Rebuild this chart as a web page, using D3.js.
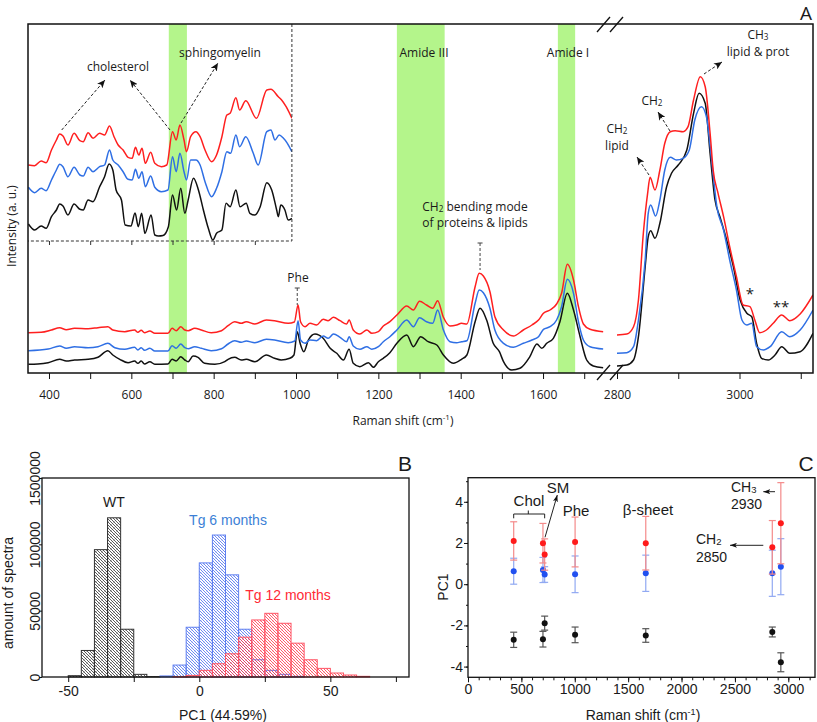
<!DOCTYPE html>
<html><head><meta charset="utf-8">
<script src="https://cdn.jsdelivr.net/npm/d3@7"></script>
<style>body{margin:0;background:#fff} svg{display:block}</style>
</head><body>
<svg id="c" width="817" height="722"></svg>
<script>
// ---------------- DATA ----------------
// Panel A: Raman spectra [shift (cm-1), intensity (a.u.)]
const redMain1 = [[350,40.3],[381,40.7],[406,43],[426,45.3],[442,43.3],[462,44.7],[495,44.3],[519,45.3],[543,46.3],[555,43],[584,41.3],[608,43],[616,40.7],[624,42.7],[632,40.3],[645,42],[657,39.7],[689,39.7],[699,44.7],[709,42.3],[720,46.3],[730,43],[738,42.3],[754,44.7],[770,43],[794,40.3],[819,42.3],[835,47.3],[851,51.3],[867,49.7],[879,51.3],[900,49],[928,53],[948,52.3],[981,49.7],[996,51],[1005,68],[1011,51.3],[1022,46.3],[1034,49.7],[1050,48],[1066,53.7],[1078,52.3],[1091,55.7],[1107,52.3],[1123,49],[1129,53],[1139,43],[1155,39],[1172,43],[1184,39.7],[1200,41.3],[1212,47],[1228,51.3],[1245,58],[1269,67],[1285,63],[1300,71.7],[1317,68],[1332,64.7],[1344,72.3],[1358,55.7],[1374,47],[1390,48],[1402,49.7],[1415,49],[1435,86.3],[1445,99.7],[1455,97],[1471,81.3],[1483,56.3],[1504,43],[1528,37],[1552,43],[1573,48],[1589,53],[1601,59.7],[1617,63],[1633,69],[1645,79.7],[1659,108.7],[1674,93],[1686,66.3],[1698,49],[1714,43.7],[1746,41.3]];
const blueMain1 = [[350,22.3],[398,24],[426,27],[442,24.7],[462,26.3],[495,25.3],[519,26.3],[543,29.7],[560,25.3],[584,23.7],[608,25.7],[616,23],[624,25.3],[632,22.7],[645,24.7],[657,22],[689,22],[699,27.3],[709,24.7],[720,29],[730,25.3],[738,24.3],[754,26.3],[770,24.7],[794,22.3],[819,24.3],[835,29],[851,32.3],[867,30.7],[879,32],[900,30.3],[928,33.7],[948,33],[981,30.3],[997,32],[1005,52.3],[1011,33],[1022,29.7],[1034,33],[1050,32.3],[1066,37],[1078,34.7],[1091,39],[1107,35.7],[1123,31.3],[1129,36.3],[1139,27],[1155,23.7],[1172,26.3],[1184,23.7],[1200,26.3],[1212,31.3],[1228,36.3],[1245,43],[1269,53],[1285,46.3],[1300,55.3],[1317,51.3],[1332,49.7],[1344,63],[1358,43],[1374,31.3],[1390,30.3],[1402,31.3],[1415,32.3],[1435,69.7],[1445,83],[1455,80.3],[1471,64.7],[1483,43],[1504,29.7],[1528,25.7],[1552,29.7],[1573,33],[1589,36.3],[1601,43.7],[1617,46.3],[1633,53],[1645,66.3],[1659,93.7],[1674,79.7],[1686,51.3],[1698,33],[1714,26.3],[1746,24]];
const blackMain1 = [[350,8.7],[373,9],[398,10.3],[426,13.7],[442,12],[462,13],[495,13.7],[519,15.7],[543,22.3],[555,18],[572,13.7],[592,10.3],[608,12],[616,9.7],[624,12],[632,9],[645,11.3],[657,8.7],[689,9],[699,13.7],[709,12],[720,16.3],[730,13],[738,11.3],[750,17],[762,15.7],[778,9.7],[803,8.7],[827,11.3],[835,13.7],[851,15.7],[867,13],[879,13.7],[900,11.3],[928,18],[948,14.7],[964,13],[985,14.7],[995,18],[1003,41.3],[1010,29.7],[1019,21.3],[1030,33],[1046,39],[1066,34.7],[1083,24.7],[1099,19.7],[1115,13],[1129,23.7],[1139,9.7],[1155,6.3],[1176,10.3],[1188,5.7],[1200,11.3],[1212,14.7],[1228,20.3],[1245,29.7],[1269,38],[1285,26.3],[1303,36.3],[1321,31.3],[1342,28],[1358,18],[1382,9.7],[1402,13.7],[1415,18],[1435,51.3],[1447,64.7],[1463,53],[1479,29.7],[1494,21.3],[1504,11.3],[1524,3],[1544,4.7],[1568,16.3],[1585,29],[1597,24.7],[1609,29.7],[1625,34.7],[1641,51.3],[1659,79.7],[1674,63],[1690,36.3],[1706,13],[1722,7],[1746,5.3]];
const redMain2 = [[2800,38],[2816,39],[2827,46.3],[2835,73],[2843,139.7],[2850,179.7],[2854,195.7],[2862,183],[2870,203],[2878,229.7],[2887,241.3],[2895,242.3],[2908,241.3],[2916,246.3],[2925,273],[2936,296.3],[2944,286.3],[2952,239.7],[2957,203],[2965,179.7],[2974,156.3],[2984,126.3],[2995,96.3],[3006,68],[3017,66.3],[3025,53],[3033,40.3],[3044,43],[3055,49.7],[3069,58],[3082,52.3],[3099,59],[3120,78]];
const blueMain2 = [[2800,19.7],[2816,20.3],[2827,26.3],[2835,53],[2846,113],[2851,159.7],[2855,168],[2863,157],[2870,173],[2878,203],[2887,215.7],[2897,213],[2908,214.7],[2918,223],[2927,253],[2938,266.3],[2946,256.3],[2955,209.7],[2963,166.3],[2974,143],[2984,113],[2995,83],[3004,53],[3012,48],[3020,49.7],[3028,26.3],[3039,23],[3050,26.3],[3069,41.3],[3082,36.3],[3099,43],[3120,63]];
const blackMain2 = [[2800,7],[2816,8],[2827,13],[2835,36.3],[2846,106.3],[2851,136.3],[2855,142.3],[2862,134.7],[2870,149.7],[2881,186.3],[2889,199.7],[2900,208],[2914,223],[2925,259.7],[2934,279.7],[2944,269.7],[2952,219.7],[2960,173],[2968,156.3],[2979,133],[2990,106.3],[3001,73],[3012,59.7],[3020,56.3],[3028,29.7],[3036,14.7],[3047,13],[3058,18],[3069,26.3],[3082,19.7],[3099,21.3],[3120,39.7]];
// Inset (magnified 350-990 cm-1)
const redInset = [[350,76],[365,75.3],[381,80],[393,78.3],[406,91],[418,101],[426,107],[434,105],[446,96],[461,107.7],[475,100.3],[483,99.3],[495,108.3],[507,102.7],[523,107.7],[535,106],[547,115],[558,104.3],[568,96],[580,91],[592,83.7],[602,82.7],[610,93.7],[618,86],[626,92.7],[634,77.7],[647,88.7],[657,77.7],[673,74.3],[686,76],[700,109.3],[709,101],[718,116],[728,101],[734,89.3],[744,104.3],[757,109.3],[767,104.3],[779,91],[795,79.3],[807,86],[820,104.3],[832,126],[840,127.7],[854,143.3],[863,131],[878,140.3],[904,122.7],[929,151],[939,151.7],[957,144.3],[965,141],[976,134.3],[990,122.7]];
const blueInset = [[350,53.7],[365,48.3],[381,52.7],[393,50.3],[406,61],[418,71],[426,76.7],[434,74.3],[446,64.3],[461,73.7],[475,66],[483,65],[495,73.7],[507,69.3],[523,74.3],[535,76],[547,91],[555,81],[568,76],[580,69.3],[592,61.7],[602,61],[610,71.7],[618,62.7],[626,69.3],[634,54.3],[647,65],[657,53.7],[673,49.3],[689,51],[700,84.3],[709,69.3],[718,87.7],[728,69.3],[734,61],[744,81],[757,81],[767,76],[779,59.3],[795,44.3],[807,52.7],[820,69.3],[832,89.3],[841,87.7],[854,106],[863,94.3],[878,104.3],[896,88],[908,76],[929,109.3],[939,111],[949,101],[959,106],[969,103],[979,97.7],[990,89.3]];
const blackInset = [[350,17],[365,11],[381,15],[393,12.7],[406,24.3],[418,31],[426,37],[434,35],[446,26],[461,37],[475,31.7],[483,31],[495,41],[507,39.3],[523,54.3],[535,64.3],[546,77],[555,71],[563,51],[576,41],[585,16],[599,15],[609,28],[617,14.3],[625,27.7],[633,7.7],[648,26],[657,6],[666,5],[677,5.5],[690,14.3],[700,46],[710,31],[720,52.7],[730,27.7],[738,41],[751,62.7],[763,51],[775,31],[787,12.7],[798,1],[807,7.7],[820,11],[830,37.7],[840,34.3],[854,51],[864,34.3],[879,37.7],[888,27.7],[900,26],[913,34.3],[929,58.3],[941,51],[953,31],[957,24.3],[963,36],[973,31],[981,21],[990,22.7]];
const bandRanges = [[691,735],[1245,1361],[1636,1678]];
const ticksA1 = [400,500,600,700,800,900,1000,1100,1200,1300,1400,1500,1600,1700];
const ticksA2 = [2800,2900,3000,3100];

// Panel B: histogram of PC1 scores (bin width 5)
const binWidth = 5;
const wtBins = [-50,-45,-40,-35,-30,-25,-20];
const wtCounts = [1000,20000,96000,120000,36000,2000,300];
const tg6Bins = [-15,-10,-5,0,5,10,15,20,25,30,35];
const tg6Counts = [800,9000,37500,86000,107000,77000,36000,13000,5000,2000,500];
const tg12Bins = [-10,-5,0,5,10,15,20,25,30,35,40,45,50,55,60];
const tg12Counts = [300,1200,5000,10000,17500,30000,43000,48000,40500,25500,13000,6500,3000,1500,500];
const yTickValsB = [0,50000,100000,150000];
const yTickLabelsB = ["0","50000","100000","1500000"];
const xTicksB = [-50,-25,0,25,50,75];

// Panel C: PC1 per band
const cShifts = [428,702,718,1003,1665,2850,2930];
const wtMean = [-2.70,-2.67,-1.89,-2.46,-2.49,-2.32,-3.79];
const wtErr = [0.37,0.38,0.34,0.38,0.33,0.24,0.46];
const tg6Mean = [0.63,0.69,0.47,0.48,0.53,0.53,0.85];
const tg6Err = [0.63,0.61,0.38,0.89,0.88,1.12,1.36];
const tg12Mean = [2.10,1.99,1.44,2.05,1.99,1.79,2.96];
const tg12Err = [0.93,0.96,0.76,1.21,1.30,1.30,1.97];

// ---------------- DRAW ----------------
const svg = d3.select("#c");
const FA = "'Open Sans','DejaVu Sans',sans-serif";
const FB = "'Liberation Sans',Arial,sans-serif";
const RED = "#ff1f1f", BLUE = "#2f6fe4", BLK = "#111";
const defs = svg.append("defs");

function mkMarker(id, color, w, h) {
  defs.append("marker").attr("id", id).attr("viewBox", `0 0 ${w} ${h}`)
    .attr("refX", w).attr("refY", h/2).attr("markerWidth", w).attr("markerHeight", h)
    .attr("markerUnits", "userSpaceOnUse").attr("orient", "auto")
    .append("path").attr("d", `M0,0L${w},${h/2}L0,${h}L${w*0.25},${h/2}Z`).attr("fill", color);
}
mkMarker("arrA", "#111", 8, 7);
mkMarker("arrC", "#111", 7, 5);

function mkHatch(id, color, op) {
  const p = defs.append("pattern").attr("id", id).attr("width", 6).attr("height", 6)
    .attr("patternUnits", "userSpaceOnUse");
  p.append("path").attr("d", "M-1,-1L7,7M2,-1L7,4M-1,2L4,7M5,-1L7,1M-1,5L1,7")
    .attr("stroke", color).attr("stroke-width", 0.8).attr("fill", "none");
  p.append("path").attr("d", "M-1,7L7,-1M-1,1L1,-1M5,7L7,5")
    .attr("stroke", color).attr("stroke-width", 0.6).attr("opacity", op).attr("fill", "none");
}
mkHatch("hK", "#333", 0.45);
mkHatch("hB", "#4d70ee", 0.3);
mkHatch("hR", "#ff3348", 0.3);

function clip(id, x, y, w, h) {
  defs.append("clipPath").attr("id", id).append("rect").attr("x", x).attr("y", y).attr("width", w).attr("height", h);
}

// ===== Panel A =====
const xA1 = d3.scaleLinear().domain([350,1750]).range([28.4,604.8]);
const xA2 = d3.scaleLinear().domain([2800,3120]).range([617,813]);
const yA = d3.scaleLinear().domain([0,350]).range([373,23]);
const yIn = d3.scaleLinear().domain([0,217]).range([241,24]);
clip("cA1", 28, 24, 577, 349);
clip("cA2", 616, 24, 197, 349);
clip("cIn", 28, 24, 264, 217);

const gA = svg.append("g");
gA.selectAll("rect.band").data(bandRanges).join("rect").attr("class","band")
  .attr("x", d => xA1(d[0])).attr("width", d => xA1(d[1]) - xA1(d[0]))
  .attr("y", 24).attr("height", 349).attr("fill", "#b4f58b");

function drawLines(g, sets, xs, ys, clipId) {
  const ln = d3.line().x(d => xs(d[0])).y(d => ys(d[1])).curve(d3.curveMonotoneX);
  g.append("g").attr("clip-path", `url(#${clipId})`).selectAll("path").data(sets).join("path")
    .attr("d", d => ln(d.v)).attr("fill", "none").attr("stroke", d => d.c)
    .attr("stroke-width", 1.5).attr("stroke-linejoin", "round");
}
drawLines(gA, [{v:blackMain1,c:BLK},{v:blueMain1,c:BLUE},{v:redMain1,c:RED}], xA1, yA, "cA1");
drawLines(gA, [{v:blackMain2,c:BLK},{v:blueMain2,c:BLUE},{v:redMain2,c:RED}], xA2, yA, "cA2");
drawLines(gA, [{v:blackInset,c:BLK},{v:blueInset,c:BLUE},{v:redInset,c:RED}], xA1, yIn, "cIn");

// inset box
gA.append("path").attr("d", `M${xA1(990)},24V241H28`).attr("fill","none")
  .attr("stroke","#333").attr("stroke-width",1).attr("stroke-dasharray","3,2");
gA.append("g").attr("transform","translate(0,241)")
  .call(d3.axisBottom(xA1).tickValues([400,500,600,700,800,900]).tickFormat("").tickSize(4))
  .call(g => g.select(".domain").remove()).selectAll("line").attr("stroke","#333");

// frame
gA.append("rect").attr("x",28).attr("y",24).attr("width",785).attr("height",349)
  .attr("fill","none").attr("stroke","#111").attr("stroke-width",1.5);

// axes
function styleAxis(g, font, size) {
  g.select(".domain").remove();
  g.selectAll("text").attr("font-family", font).attr("font-size", size).attr("fill", "#1a1a1a");
  g.selectAll("line").attr("stroke", "#111");
}
gA.append("g").attr("transform","translate(0,373)")
  .call(d3.axisBottom(xA1).tickValues(ticksA1).tickFormat(d => d % 200 === 0 ? String(d) : "").tickSize(6).tickPadding(11))
  .call(g => styleAxis(g, FA, 12));
gA.append("g").attr("transform","translate(0,373)")
  .call(d3.axisBottom(xA2).tickValues(ticksA2).tickFormat(d => d % 200 === 0 ? String(d) : "").tickSize(6).tickPadding(11))
  .call(g => styleAxis(g, FA, 12));

// break marks
[[597,32,610,17],[610,32,623,17],[597,380,610,365],[610,380,623,365]].forEach(s => {
  gA.append("line").attr("x1",s[0]).attr("y1",s[1]).attr("x2",s[2]).attr("y2",s[3])
    .attr("stroke","#111").attr("stroke-width",1.3);
});

function txt(g, x, y, s, o) {
  o = o || {};
  const t = g.append("text").attr("x", x).attr("y", y)
    .attr("font-family", o.font || FA).attr("font-size", o.size || 12)
    .attr("fill", o.fill || "#1a1a1a").attr("text-anchor", o.anchor || "middle");
  if (o.rot) t.attr("transform", `rotate(-90,${x},${y})`);
  if (o.sub) {
    t.text(s);
    t.append("tspan").attr("font-size", (o.size || 12) * 0.68).attr("dy", 1).text(o.sub);
  } else t.text(s);
  return t;
}
// axis titles
const tA = txt(gA, 403, 425, "Raman shift (cm");
tA.append("tspan").attr("font-size", 8).attr("dy", -5).text("-1");
tA.append("tspan").attr("dy", 5).text(")");
txt(gA, 16, 226, "Intensity (a. u.)", {rot: true});
txt(gA, 806, 20, "A", {size: 19});

// annotations A
txt(gA, 118, 71, "cholesterol");
txt(gA, 220, 57, "sphingomyelin");
txt(gA, 424, 57, "Amide III");
txt(gA, 568, 57, "Amide I");
txt(gA, 758, 39, "CH", {sub: "3"});
txt(gA, 758, 56, "lipid & prot");
txt(gA, 652, 105, "CH", {sub: "2"});
txt(gA, 617, 133, "CH", {sub: "2"});
txt(gA, 617, 150, "lipid");
txt(gA, 475, 211, "CH", {sub: "2"}).append("tspan").attr("dy", -1).attr("font-size", 12).text(" bending mode");
txt(gA, 475, 227, "of proteins & lipids");
txt(gA, 298, 282, "Phe");
txt(gA, 750, 299, "*", {size: 15});
txt(gA, 781, 312, "**", {size: 15});

[[61.7,130,105,80],[170,130,130,80],[181,123,218,63],[704,74,722,62],[670,131,658,112],[649,175,637,157]].forEach(a => {
  gA.append("line").attr("x1",a[0]).attr("y1",a[1]).attr("x2",a[2]).attr("y2",a[3])
    .attr("stroke","#222").attr("stroke-width",1).attr("stroke-dasharray","3,2")
    .attr("marker-end","url(#arrA)");
});
// dashed peak markers with caps
[[xA1(1003),288,305],[xA1(1447),243,270]].forEach(m => {
  gA.append("line").attr("x1",m[0]).attr("x2",m[0]).attr("y1",m[1]).attr("y2",m[2])
    .attr("stroke","#444").attr("stroke-width",1).attr("stroke-dasharray","3,2");
  gA.append("line").attr("x1",m[0]-2.5).attr("x2",m[0]+2.5).attr("y1",m[1]).attr("y2",m[1])
    .attr("stroke","#444").attr("stroke-width",1);
});

// ===== Panel B =====
const xB = d3.scaleLinear().domain([-60,80]).range([42,409]);
const yB = d3.scaleLinear().domain([0,150000]).range([677,478]);
const gB = svg.append("g");
function hist(bins, counts, fill, stroke) {
  gB.append("g").selectAll("rect").data(bins.map((b,i) => ({b, c: counts[i]}))).join("rect")
    .attr("x", d => xB(d.b)).attr("width", d => xB(d.b + binWidth) - xB(d.b))
    .attr("y", d => yB(d.c)).attr("height", d => yB(0) - yB(d.c))
    .attr("fill", fill).attr("stroke", stroke).attr("stroke-width", 1);
}
hist(wtBins, wtCounts, "url(#hK)", "#333");
hist(tg6Bins, tg6Counts, "url(#hB)", "#5f7ff0");
hist(tg12Bins, tg12Counts, "url(#hR)", "#ff5565");
gB.append("rect").attr("x",42).attr("y",478).attr("width",367).attr("height",199)
  .attr("fill","none").attr("stroke","#111").attr("stroke-width",1.3);
gB.append("g").attr("transform","translate(0,677)")
  .call(d3.axisBottom(xB).tickValues(xTicksB).tickFormat(d => d % 50 === 0 ? String(d) : "").tickSize(5).tickPadding(4))
  .call(g => styleAxis(g, FB, 14));
const axYB = gB.append("g").attr("transform","translate(42,0)")
  .call(d3.axisLeft(yB).tickValues(yTickValsB).tickFormat((d,i) => yTickLabelsB[i]).tickSize(3))
  .call(g => styleAxis(g, FB, 14));
axYB.selectAll("text").attr("x", 0).attr("y", -2).attr("dy", 0)
  .attr("text-anchor", "middle").attr("transform", "rotate(-90)");
txt(gB, 223, 720, "PC1 (44.59%)", {font: FB, size: 14});
txt(gB, 13, 593, "amount of spectra", {font: FB, size: 14, rot: true});
txt(gB, 405, 471, "B", {font: FB, size: 21});
txt(gB, 114, 507, "WT", {font: FB, size: 14});
txt(gB, 228, 525, "Tg 6 months", {font: FB, size: 14, fill: "#3c7fd6"});
txt(gB, 288, 600, "Tg 12 months", {font: FB, size: 14, fill: "#ff2a36"});

// ===== Panel C =====
const xC = d3.scaleLinear().domain([0,3250]).range([468,815]);
const yC = d3.scaleLinear().domain([-4.52,5.17]).range([677.3,477.7]);
const gC = svg.append("g");
gC.append("rect").attr("x",468).attr("y",477.7).attr("width",347).attr("height",199.6)
  .attr("fill","none").attr("stroke","#111").attr("stroke-width",1.3);
gC.append("g").attr("transform","translate(0,677.3)")
  .call(d3.axisBottom(xC).tickValues(d3.range(0,3201,100)).tickFormat("").tickSize(3))
  .call(g => styleAxis(g, FB, 14));
gC.append("g").attr("transform","translate(0,677.3)")
  .call(d3.axisBottom(xC).tickValues(d3.range(0,3001,500)).tickFormat(d => String(d)).tickSize(5).tickPadding(2))
  .call(g => styleAxis(g, FB, 14));
gC.append("g").attr("transform","translate(468,0)")
  .call(d3.axisLeft(yC).tickValues([-4,-3,-2,-1,0,1,2,3,4,5]).tickFormat("").tickSize(2))
  .call(g => styleAxis(g, FB, 14));
gC.append("g").attr("transform","translate(468,0)")
  .call(d3.axisLeft(yC).tickValues([-4,-2,0,2,4]).tickFormat(d => String(d)).tickSize(4).tickPadding(1))
  .call(g => styleAxis(g, FB, 14));

function errSeries(means, errs, ptColor, barColor) {
  const g = gC.append("g");
  const d = cShifts.map((s,i) => ({s, m: means[i], e: errs[i]}));
  g.selectAll("line.v").data(d).join("line").attr("class","v")
    .attr("x1", p => xC(p.s)).attr("x2", p => xC(p.s))
    .attr("y1", p => yC(p.m - p.e)).attr("y2", p => yC(p.m + p.e))
    .attr("stroke", barColor).attr("stroke-width", 1.2);
  [1,-1].forEach(sg => {
    g.selectAll("line.c" + (sg>0?"t":"b")).data(d).join("line").attr("class","c" + (sg>0?"t":"b"))
      .attr("x1", p => xC(p.s) - 3.5).attr("x2", p => xC(p.s) + 3.5)
      .attr("y1", p => yC(p.m + sg*p.e)).attr("y2", p => yC(p.m + sg*p.e))
      .attr("stroke", barColor).attr("stroke-width", 1.2);
  });
  return {g, d, ptColor};
}
const sK = errSeries(wtMean, wtErr, "#111", "#555");
const sB = errSeries(tg6Mean, tg6Err, "#2150f0", "#91a9f2");
const sR = errSeries(tg12Mean, tg12Err, "#ff1a1a", "#f48a8a");
[sK, sB, sR].forEach(s => {
  s.g.selectAll("circle").data(s.d).join("circle")
    .attr("cx", p => xC(p.s)).attr("cy", p => yC(p.m)).attr("r", 3).attr("fill", s.ptColor);
});

const tC = txt(gC, 643, 720, "Raman shift (cm", {font: FB, size: 14});
tC.append("tspan").attr("font-size", 9).attr("dy", -5).text("-1");
tC.append("tspan").attr("dy", 5).text(")");
txt(gC, 448, 587, "PC1", {font: FB, size: 14, rot: true});
txt(gC, 806, 471, "C", {font: FB, size: 21});
txt(gC, 529, 506, "Chol", {font: FB, size: 15});
txt(gC, 558, 493, "SM", {font: FB, size: 15});
txt(gC, 576, 516, "Phe", {font: FB, size: 15});
txt(gC, 648, 515, "\u03b2-sheet", {font: FB, size: 15});
txt(gC, 731, 492, "CH", {font: FB, size: 14, anchor: "start", sub: "3"});
txt(gC, 731, 509, "2930", {font: FB, size: 14, anchor: "start"});
txt(gC, 696, 544, "CH", {font: FB, size: 14, anchor: "start", sub: "2"});
txt(gC, 696, 562, "2850", {font: FB, size: 14, anchor: "start"});
// Chol bracket
gC.append("path").attr("d", `M${xC(428)},518.3V514H${xC(718)}V518.3M528.3,514V510.5`)
  .attr("fill","none").attr("stroke","#222").attr("stroke-width",1);
[[545,537.3,557.3,495],[775,491.7,763.3,491.7],[763.3,545.3,730,545.3]].forEach(a => {
  gC.append("line").attr("x1",a[0]).attr("y1",a[1]).attr("x2",a[2]).attr("y2",a[3])
    .attr("stroke","#222").attr("stroke-width",1).attr("marker-end","url(#arrC)");
});
</script>
</body></html>
